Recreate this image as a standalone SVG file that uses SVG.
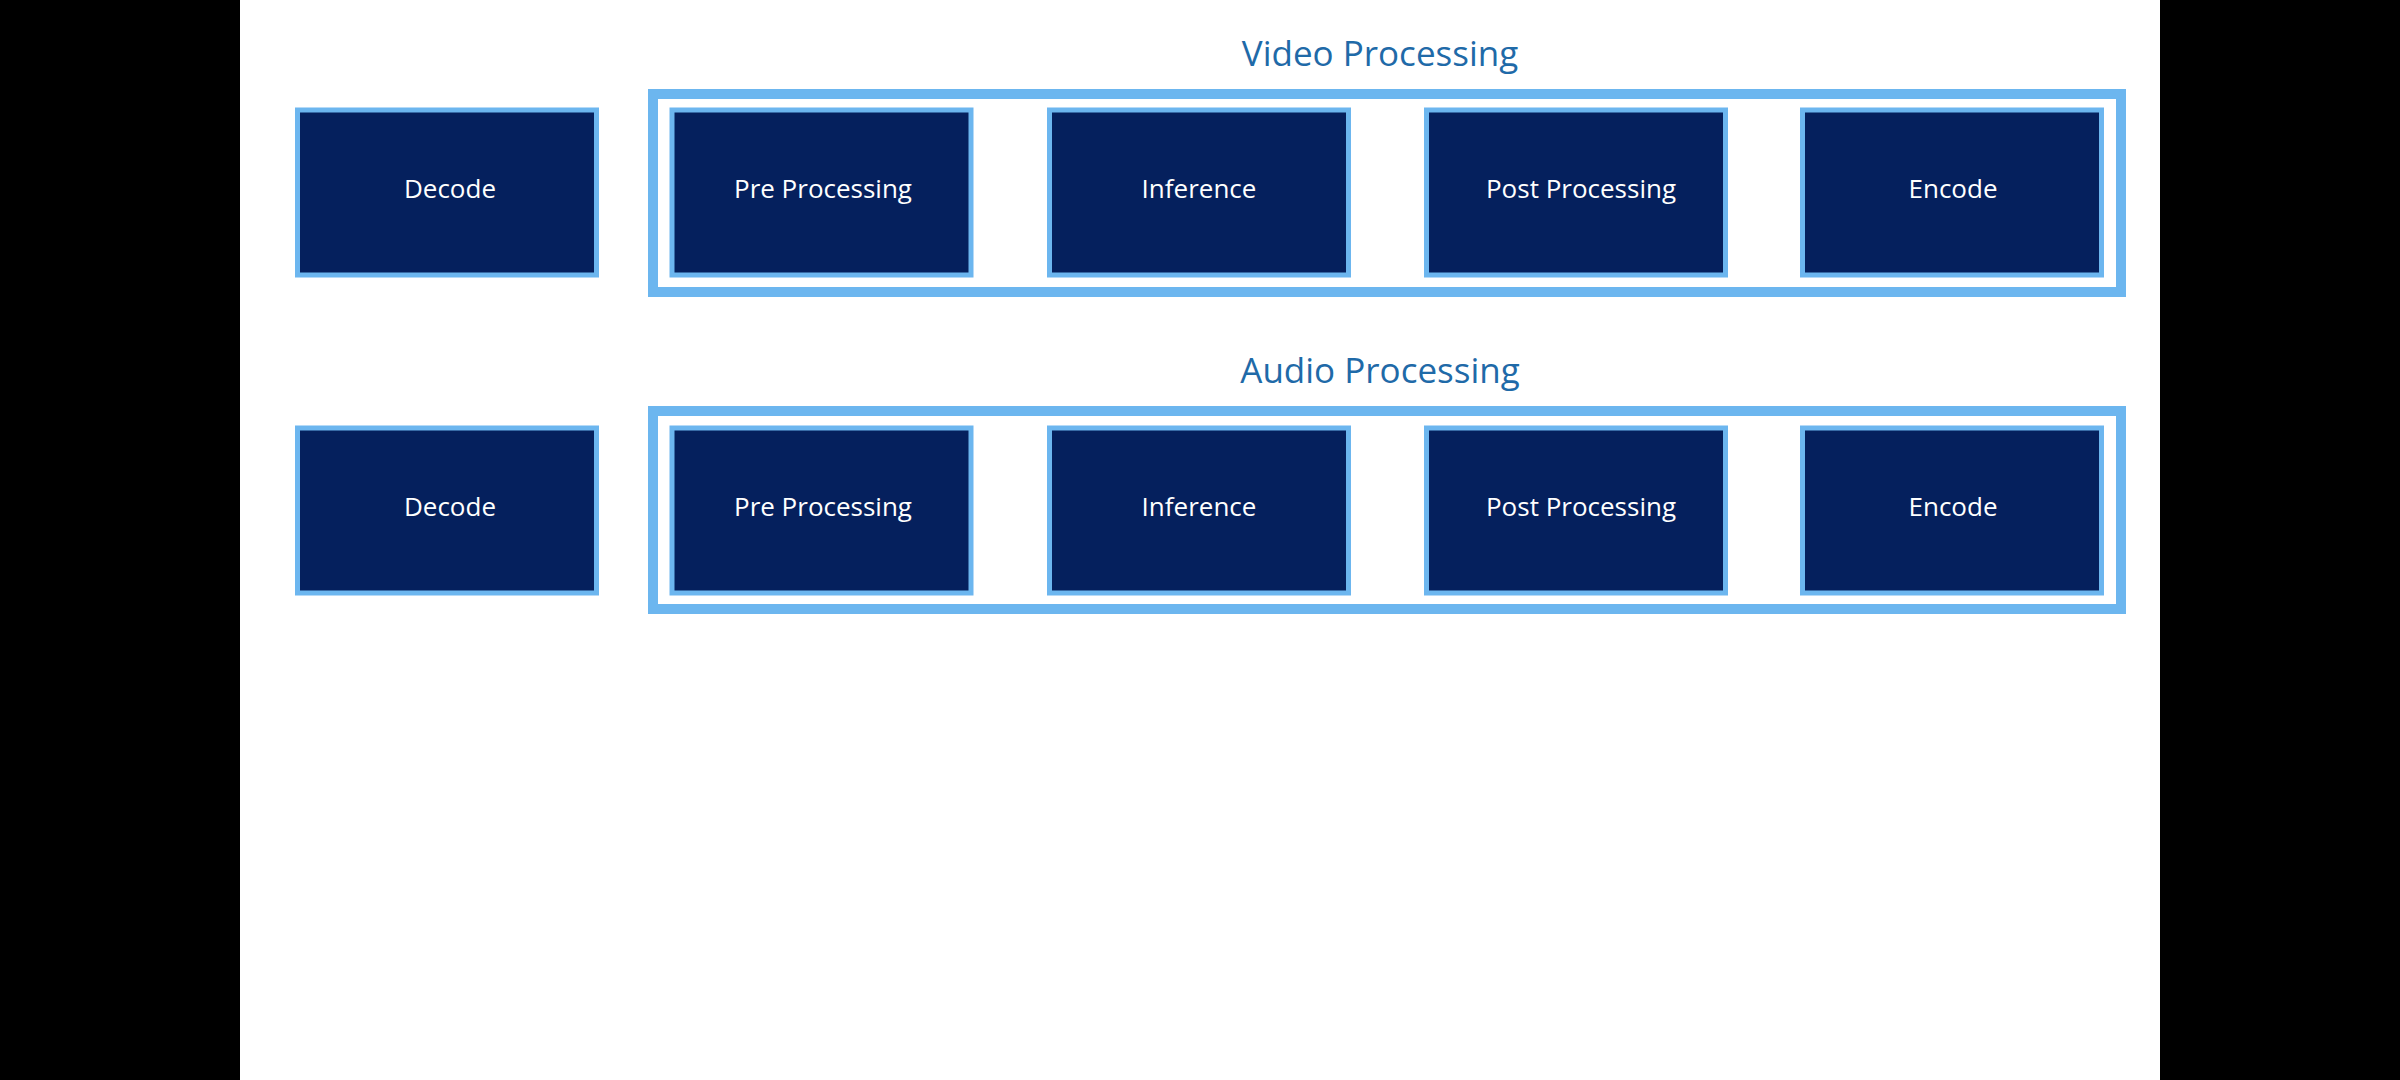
<svg xmlns="http://www.w3.org/2000/svg" width="2400" height="1080" viewBox="0 0 2400 1080">
  <style>
    .box { fill: #05205d; stroke: #6cb6ef; stroke-width: 5; }
    .group { fill: none; stroke: #6cb6ef; stroke-width: 10; }
    .label { fill: #ffffff; font-family: "Open Sans", "Noto Sans", sans-serif; font-size: 26px; text-anchor: middle; }
    .title { fill: #1f6aa8; font-family: "Open Sans", "Noto Sans", sans-serif; font-size: 35px; text-anchor: middle; }
  </style>
  <rect x="0" y="0" width="2400" height="1080" fill="#000000"/>
  <rect x="240" y="0" width="1920" height="1080" fill="#ffffff"/>

  <g id="video-processing">
    <rect class="group" x="653" y="94" width="1468" height="198"/>
    <text class="title" x="1380" y="66">Video Processing</text>
  </g>
  <g id="audio-processing">
    <rect class="group" x="653" y="411" width="1468" height="198"/>
    <text class="title" x="1380" y="383">Audio Processing</text>
  </g>

  <g id="video-decode">
    <rect class="box" x="297.5" y="110" width="299" height="165"/>
    <text class="label" x="450" y="198">Decode</text>
  </g>
  <g id="video-pre">
    <rect class="box" x="672" y="110" width="299" height="165"/>
    <text class="label" x="823" y="198">Pre Processing</text>
  </g>
  <g id="video-inference">
    <rect class="box" x="1049.5" y="110" width="299" height="165"/>
    <text class="label" x="1199" y="198">Inference</text>
  </g>
  <g id="video-post">
    <rect class="box" x="1426.5" y="110" width="299" height="165"/>
    <text class="label" x="1581" y="198">Post Processing</text>
  </g>
  <g id="video-encode">
    <rect class="box" x="1802.5" y="110" width="299" height="165"/>
    <text class="label" x="1953" y="198">Encode</text>
  </g>

  <g id="audio-decode">
    <rect class="box" x="297.5" y="428" width="299" height="165"/>
    <text class="label" x="450" y="516">Decode</text>
  </g>
  <g id="audio-pre">
    <rect class="box" x="672" y="428" width="299" height="165"/>
    <text class="label" x="823" y="516">Pre Processing</text>
  </g>
  <g id="audio-inference">
    <rect class="box" x="1049.5" y="428" width="299" height="165"/>
    <text class="label" x="1199" y="516">Inference</text>
  </g>
  <g id="audio-post">
    <rect class="box" x="1426.5" y="428" width="299" height="165"/>
    <text class="label" x="1581" y="516">Post Processing</text>
  </g>
  <g id="audio-encode">
    <rect class="box" x="1802.5" y="428" width="299" height="165"/>
    <text class="label" x="1953" y="516">Encode</text>
  </g>

  <g id="connectors"></g>
</svg>
